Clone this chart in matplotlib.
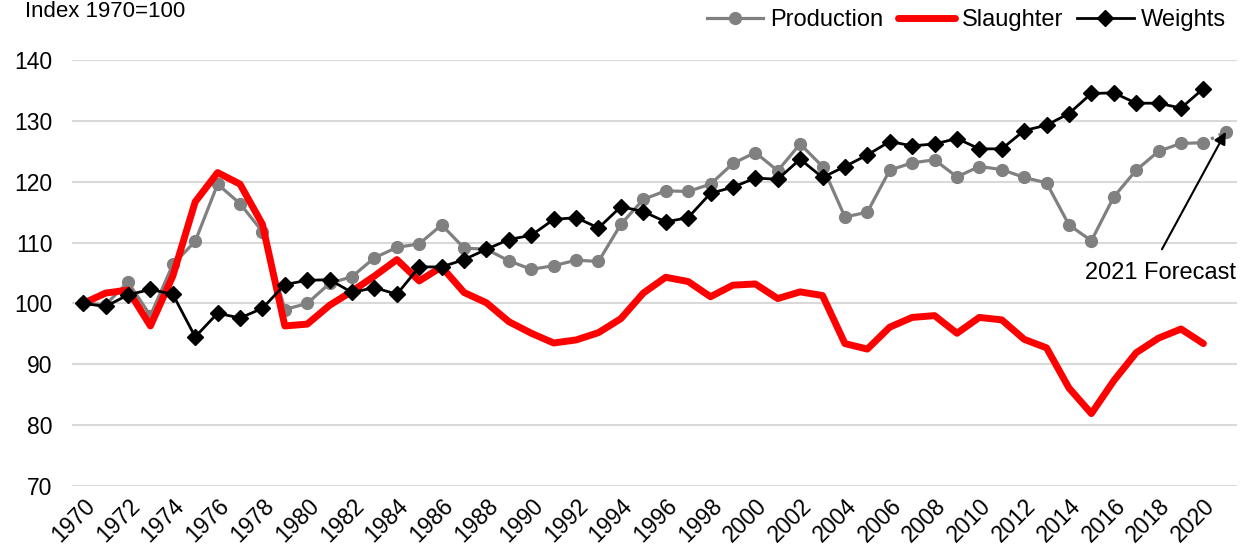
import matplotlib
matplotlib.use("Agg")
import matplotlib.pyplot as plt
import numpy as np

plt.rcParams['font.family'] = ['Liberation Sans', 'DejaVu Sans']

years = list(range(1970, 2021))
production = [100, 99.8, 103.5, 98.0, 106.4, 110.2, 119.6, 116.4, 111.8, 99.0,
              100.0, 103.3, 104.4, 107.5, 109.2, 109.8, 112.9, 109.1, 108.9, 107.0,
              105.6, 106.2, 107.1, 106.9, 113.0, 117.1, 118.5, 118.4, 119.6, 123.0,
              124.8, 121.8, 126.2, 122.5, 114.2, 115.0, 121.9, 123.1, 123.6, 120.8,
              122.5, 122.0, 120.7, 119.8, 112.9, 110.3, 117.5, 121.9, 125.0, 126.3,
              126.4]
forecast_year = 2021
production_forecast = 128.2
slaughter = [100, 101.7, 102.2, 96.3, 104.5, 116.7, 121.5, 119.6, 113.0, 96.3,
             96.6, 99.7, 102.0, 104.5, 107.2, 103.7, 106.0, 101.8, 100.1, 97.0,
             95.1, 93.5, 94.0, 95.2, 97.5, 101.7, 104.3, 103.6, 101.1, 103.0,
             103.2, 100.8, 101.9, 101.3, 93.4, 92.5, 96.1, 97.7, 98.0, 95.1,
             97.7, 97.3, 94.1, 92.7, 86.1, 81.9, 87.3, 91.9, 94.3, 95.8,
             93.4]
weights = [100, 99.5, 101.4, 102.3, 101.5, 94.5, 98.4, 97.6, 99.2, 103.1,
           103.8, 103.9, 101.8, 102.6, 101.5, 106.0, 106.0, 107.2, 108.9, 110.5,
           111.2, 113.8, 114.1, 112.4, 115.9, 115.1, 113.4, 114.1, 118.1, 119.1,
           120.6, 120.4, 123.7, 120.7, 122.5, 124.4, 126.6, 125.9, 126.2, 127.1,
           125.4, 125.4, 128.4, 129.3, 131.2, 134.5, 134.6, 132.9, 132.9, 132.1,
           135.3]
tick_years = list(range(1970, 2021, 2))
y_ticks = [70, 80, 90, 100, 110, 120, 130, 140]

W, H = 1244, 555
fig = plt.figure(figsize=(W / 100, H / 100), dpi=100)
ax = fig.add_axes([72 / W, 1 - 486 / H, (1237 - 72) / W, (486 - 60) / H])

gray = '#808080'
ax.plot(years, production, color=gray, lw=2.3, marker='o', ms=8.5,
        label='Production', zorder=3)
ax.plot([years[-1], forecast_year], [production[-1], production_forecast],
        color=gray, lw=2.3, ls=':', zorder=3)
ax.plot([forecast_year], [production_forecast], color=gray, marker='o', ms=8.5,
        ls='none', zorder=3)
ax.plot(years, slaughter, color='#ff0000', lw=5, label='Slaughter', zorder=4,
        solid_capstyle='round', solid_joinstyle='round')
ax.plot(years, weights, color='black', lw=2, marker='D', ms=8.3,
        label='Weights', zorder=5)

ax.set_xlim(1969.5, 2021.5)
ax.set_ylim(70, 140)
ax.set_yticks(y_ticks)
ax.set_xticks(tick_years)
ax.set_xticklabels([str(y) for y in tick_years], rotation=45, ha='right',
                   rotation_mode='anchor')
ax.tick_params(axis='both', length=0, colors='black')
ax.tick_params(axis='y', pad=14, labelsize=16.5)
ax.tick_params(axis='x', pad=6, labelsize=16.5)
ax.grid(axis='y', color='#d9d9d9', lw=1.5)
ax.set_axisbelow(True)
for s in ax.spines.values():
    s.set_visible(False)

ax.annotate('', xy=(forecast_year, production_forecast), xytext=(2018.15, 108.9),
            arrowprops=dict(arrowstyle='-|>', color='black', lw=1.5,
                            mutation_scale=18, shrinkA=0, shrinkB=0), zorder=6)
ax.text(2018.1, 105.0, '2021 Forecast', ha='center', va='center', fontsize=17)

fig.text(25 / W, 1 - 1 / H, 'Index 1970=100', fontsize=16, ha='left', va='top')

leg = fig.legend(loc='center right', bbox_to_anchor=(1226 / W, 1 - 20 / H),
                 ncol=3, frameon=False, fontsize=17, handlelength=2.4,
                 handletextpad=0.3, columnspacing=0.6, borderpad=0,
                 borderaxespad=0)

fig.savefig('out.png', dpi=100)
